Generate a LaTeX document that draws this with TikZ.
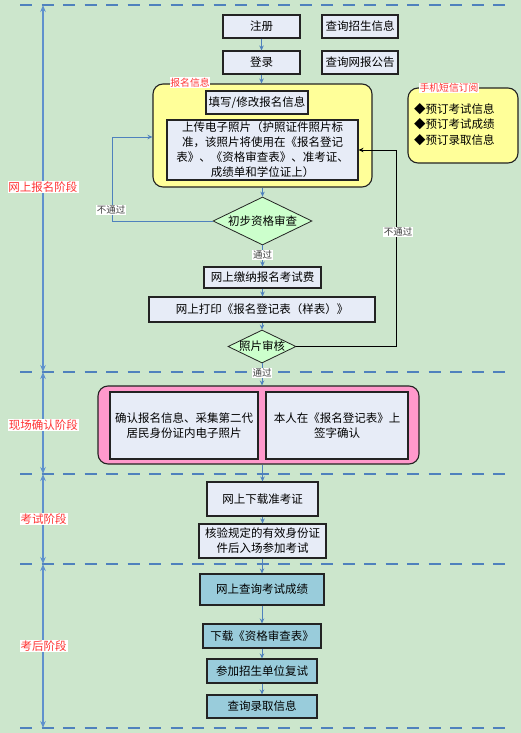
\documentclass[tikz,border=0pt]{standalone}
\usepackage{fontspec}
\newfontfamily\cjk{Noto Sans CJK SC}
\usetikzlibrary{shapes.geometric,arrows.meta}
\definecolor{bggreen}{RGB}{204,230,204}
\definecolor{boxfill}{RGB}{231,236,247}
\definecolor{yellowfill}{RGB}{255,255,153}
\definecolor{pinkfill}{RGB}{255,153,204}
\definecolor{diafill}{RGB}{204,255,204}
\definecolor{tealfill}{RGB}{153,204,219}
\definecolor{flowblue}{RGB}{79,129,189}
\definecolor{stageblue}{RGB}{95,145,205}
\definecolor{redtext}{RGB}{255,51,51}
\definecolor{edge}{RGB}{35,35,35}
\tikzset{
  txt/.style={font=\cjk\fontsize{11.5}{15}\selectfont},
  box/.style={txt, draw=edge, line width=1.1pt, fill=boxfill, inner sep=0pt, align=center},
  tealbox/.style={box, fill=tealfill},
  roundbox/.style={draw=edge, line width=1.1pt, rounded corners=10pt, inner sep=0pt},
  decision/.style={txt, diamond, draw=edge, line width=0.8pt, fill=diafill, inner sep=0pt, shape aspect=2},
  lbl/.style={font=\cjk\fontsize{9.5}{11}\selectfont, fill=white, inner sep=0.6pt, text=black!75},
  redlbl/.style={font=\cjk\fontsize{9.8}{11}\selectfont, fill=white, inner sep=0.6pt, text=redtext},
  stagelbl/.style={font=\cjk\fontsize{11.5}{13}\selectfont, fill=white, inner sep=1pt, text=redtext},
  flow/.style={draw=flowblue, line width=0.9pt, -{Stealth[length=5pt,width=4.5pt]}},
  flowblack/.style={draw=black, line width=0.9pt, -{Stealth[length=5pt,width=4.5pt]}},
  stagearrow/.style={draw=stageblue, line width=1.4pt, {Stealth[length=7pt,width=5.5pt]}-{Stealth[length=7pt,width=5.5pt]}},
  sep/.style={draw=flowblue, line width=2pt, dash pattern=on 12pt off 9.5pt},
}
\begin{document}
\begin{tikzpicture}[x=1pt,y=-1pt]
\useasboundingbox (0,0) rectangle (521,733);
\fill[bggreen] (0,0) rectangle (521,733);

% stage separators
\coordinate (s0l) at (20,5);   \coordinate (s0r) at (507,5);
\coordinate (s1l) at (20,372); \coordinate (s1r) at (507,372);
\coordinate (s2l) at (20,474); \coordinate (s2r) at (507,474);
\coordinate (s3l) at (20,564); \coordinate (s3r) at (507,564);
\coordinate (s4l) at (20,728); \coordinate (s4r) at (507,728);
\foreach \i in {0,...,4} { \draw[sep] (s\i l) -- (s\i r); }

\coordinate (a0) at (43,5);
\coordinate (a1) at (43,372);
\coordinate (a2) at (43,474);
\coordinate (a3) at (43,564);
\coordinate (a4) at (43,728);
\draw[stagearrow] (a0) -- (a1);
\draw[stagearrow] (a1) -- (a2);
\draw[stagearrow] (a2) -- (a3);
\draw[stagearrow] (a3) -- (a4);
\node[stagelbl] (st1) at (43,187) {网上报名阶段};
\node[stagelbl] (st2) at (43.5,425) {现场确认阶段};
\node[stagelbl] (st3) at (43.5,519) {考试阶段};
\node[stagelbl] (st4) at (43.5,646) {考后阶段};

% top boxes
\node[box, minimum width=77, minimum height=23] (zc) at (261.5,26.5) {注册};
\node[box, minimum width=76, minimum height=23] (cx1) at (360,26.5) {查询招生信息};
\node[box, minimum width=77, minimum height=23] (dl) at (261.5,62.5) {登录};
\node[box, minimum width=76, minimum height=23] (cx2) at (360,62.5) {查询网报公告};

% registration info group
\node[roundbox, fill=yellowfill, minimum width=219, minimum height=103] (bm) at (262.5,135.5) {};
\node[redlbl] (bmlbl) at (190,82.5) {报名信息};
\node[box, minimum width=102, minimum height=23] (tx) at (257,102.5) {填写/修改报名信息};
\node[box, minimum width=191, minimum height=60] (sc) at (262.5,150)
  {上传电子照片（护照证件照片标\\准，该照片将使用在《报名登记\\表》、《资格审查表》、准考证、\\成绩单和学位证上）};

% SMS subscription panel
\node[roundbox, fill=yellowfill, minimum width=110, minimum height=75] (dx) at (463,125.5) {};
\node[redlbl] (dxlbl) at (449,88) {手机短信订阅};
\node[txt, anchor=west, align=left, inner sep=0pt, font=\cjk\fontsize{11.5}{15.5}\selectfont] (dxitems) at (414,124.5)
  {◆预订考试信息\\◆预订考试成绩\\◆预订录取信息};

% checks
\node[decision, minimum width=99, minimum height=48] (cs) at (262.5,221) {初步资格审查};
\node[box, minimum width=117, minimum height=21] (jf) at (262.5,277.5) {网上缴纳报名考试费};
\node[box, minimum width=226, minimum height=25] (dy) at (262,309.5) {网上打印《报名登记表（样表）》};
\node[decision, minimum width=68, minimum height=33, inner sep=-1.5pt] (zp) at (262,346.5) {照片审核};

% on-site confirmation
\node[roundbox, fill=pinkfill, minimum width=321, minimum height=78] (qr) at (258.5,425) {};
\node[box, minimum width=148, minimum height=67] (qr1) at (184,425.5) {确认报名信息、采集第二代\\居民身份证内电子照片};
\node[box, minimum width=142, minimum height=67] (qr2) at (337,425.5) {本人在《报名登记表》上\\签字确认};

% exam
\node[box, minimum width=111, minimum height=34] (zkz) at (262.5,499) {网上下载准考证};
\node[box, minimum width=127, minimum height=34] (hy) at (262.5,541) {核验规定的有效身份证\\件后入场参加考试};

% after exam
\node[tealbox, minimum width=124, minimum height=31] (cj) at (262,589.5) {网上查询考试成绩};
\node[tealbox, minimum width=118, minimum height=24] (xz) at (262,636) {下载《资格审查表》};
\node[tealbox, minimum width=110, minimum height=24] (fs) at (262,671) {参加招生单位复试};
\node[tealbox, minimum width=110, minimum height=23] (lq) at (262,706.5) {查询录取信息};

% connectors
\draw[flow] (zc) -- (dl);
\draw[flow] (dl.south) -- (dl.south |- bm.north);
\draw[flow] (bm.south -| cs.north) -- (cs.north);
\draw[flow] (cs) -- (jf) node[lbl, pos=0.45, name=tg1] {通过};
\draw[flow] (jf) -- (jf.south |- dy.north);
\draw[flow] (dy) -- (zp);
\draw[flow] (zp.south) -- (zp.south |- qr.north) node[lbl, pos=0.45, name=tg2] {通过};
\draw[flow] (qr.south -| zkz.north) -- (zkz.north);
\draw[flow] (zkz) -- (hy);
\draw[flow] (hy.south -| cj.north) -- (cj.north);
\draw[flow] (cj) -- (xz);
\draw[flow] (xz) -- (fs);
\draw[flow] (fs) -- (lq);

% loops back
\coordinate (lp) at (112,137);
\draw[flow] (cs.west) -| (lp) -- (lp -| bm.west);
\node[lbl] (ntg1) at (111,210) {不通过};
\coordinate (rp) at (396,150);
\draw[flowblack] (zp.east) -| (rp) -- (sc.east);
\node[lbl] (ntg2) at (398,232) {不通过};
\end{tikzpicture}
\end{document}
